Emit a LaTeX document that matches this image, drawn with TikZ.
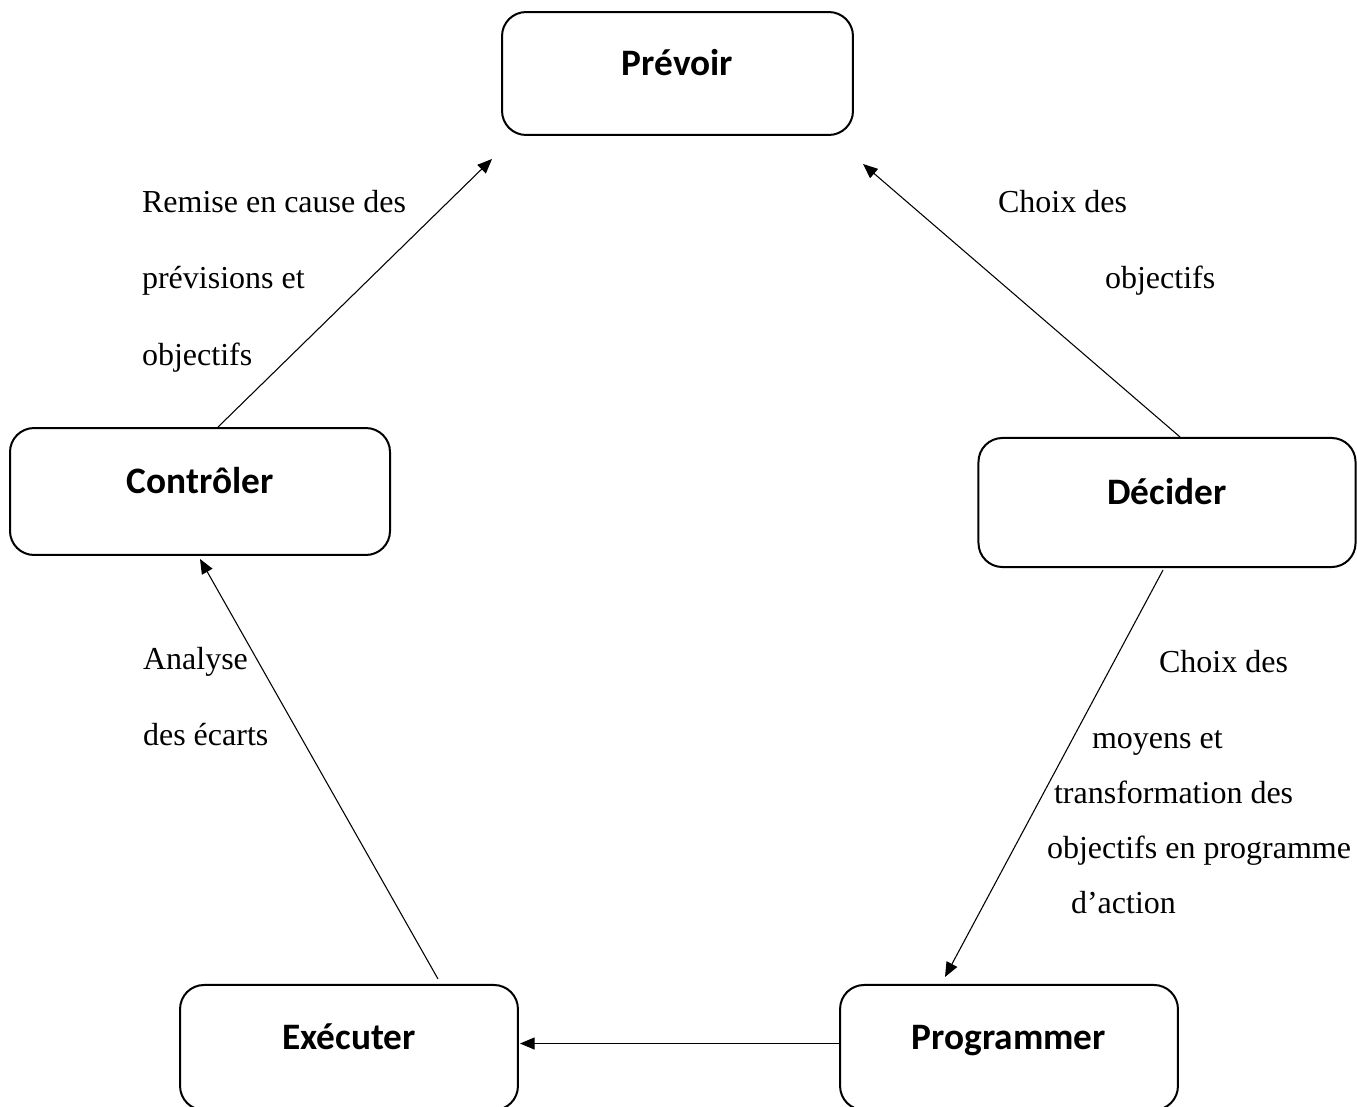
\documentclass[tikz,border=0pt]{standalone}
\usepackage{fontspec}
\setmainfont{Liberation Serif}
\newfontfamily\boxfont{Carlito}
\usetikzlibrary{arrows.meta}

\begin{document}
\begin{tikzpicture}[x=0.375pt, y=-0.375pt, thick,
    main/.style = {draw, line width=0.75pt, rounded corners=9pt, font=\boxfont\bfseries\fontsize{14}{16}\selectfont, text height=8.75pt, text depth=7.25pt},
    lbl/.style = {anchor=base west, inner sep=0pt, font=\fontsize{12}{14}\selectfont},
    >={Triangle[length=5.5pt, width=4.5pt]}]
  \useasboundingbox (0,0) rectangle (1357,1106);

    \node[main, minimum width=131.6pt, minimum height=46.1pt] (P) at (677.5,73.5) {Prévoir};
    \node[main, minimum width=142.5pt, minimum height=47.6pt] (C) at (200,491.5) {Contrôler};
    \node[main, minimum width=141.4pt, minimum height=48.4pt] (D) at (1167,502.5) {Décider};
    \node[main, minimum width=126.7pt, minimum height=46.9pt] (E) at (349,1047.5) {Exécuter};
    \node[main, minimum width=126.7pt, minimum height=46.9pt] (G) at (1009,1047.5) {Programmer};

    % labels
    \node[lbl] (r1) at (141,212) {Remise en cause des};
    \node[lbl] (r2) at (141,288) {prévisions et};
    \node[lbl] (r3) at (141,365) {objectifs};

    \node[lbl] (o1) at (997,212) {Choix des};
    \node[lbl] (o2) at (1104,288) {objectifs};

    \node[lbl] (a1) at (142,669) {Analyse};
    \node[lbl] (a2) at (142,745) {des écarts};

    \node[lbl] (m1) at (1158,672) {Choix des};
    \node[lbl] (m2) at (1091,748) {moyens et};
    \node[lbl] (m3) at (1053,803) {transformation des};
    \node[lbl] (m4) at (1046,858) {objectifs en programme};
    \node[lbl] (m5) at (1070,913) {d’action};

    \draw[->, line width=0.4pt] ([shift={(18,0)}]C.north) -- ([shift={(-9,23)}]P.south west);
    \draw[->, line width=0.4pt] ([shift={(13,0)}]D.north) -- ([shift={(9,28)}]P.south east);
    \draw[->, line width=0.4pt] ([shift={(-4,2)}]D.south) -- ([shift={(-64,-7)}]G.north);
    \draw[->, line width=0.4pt] ([shift={(0,-4)}]G.west) -- ([shift={(1,-4)}]E.east);
    \draw[->, line width=0.4pt] ([shift={(89,-5)}]E.north) -- ([shift={(0,3)}]C.south);
  \end{tikzpicture}
\end{document}
